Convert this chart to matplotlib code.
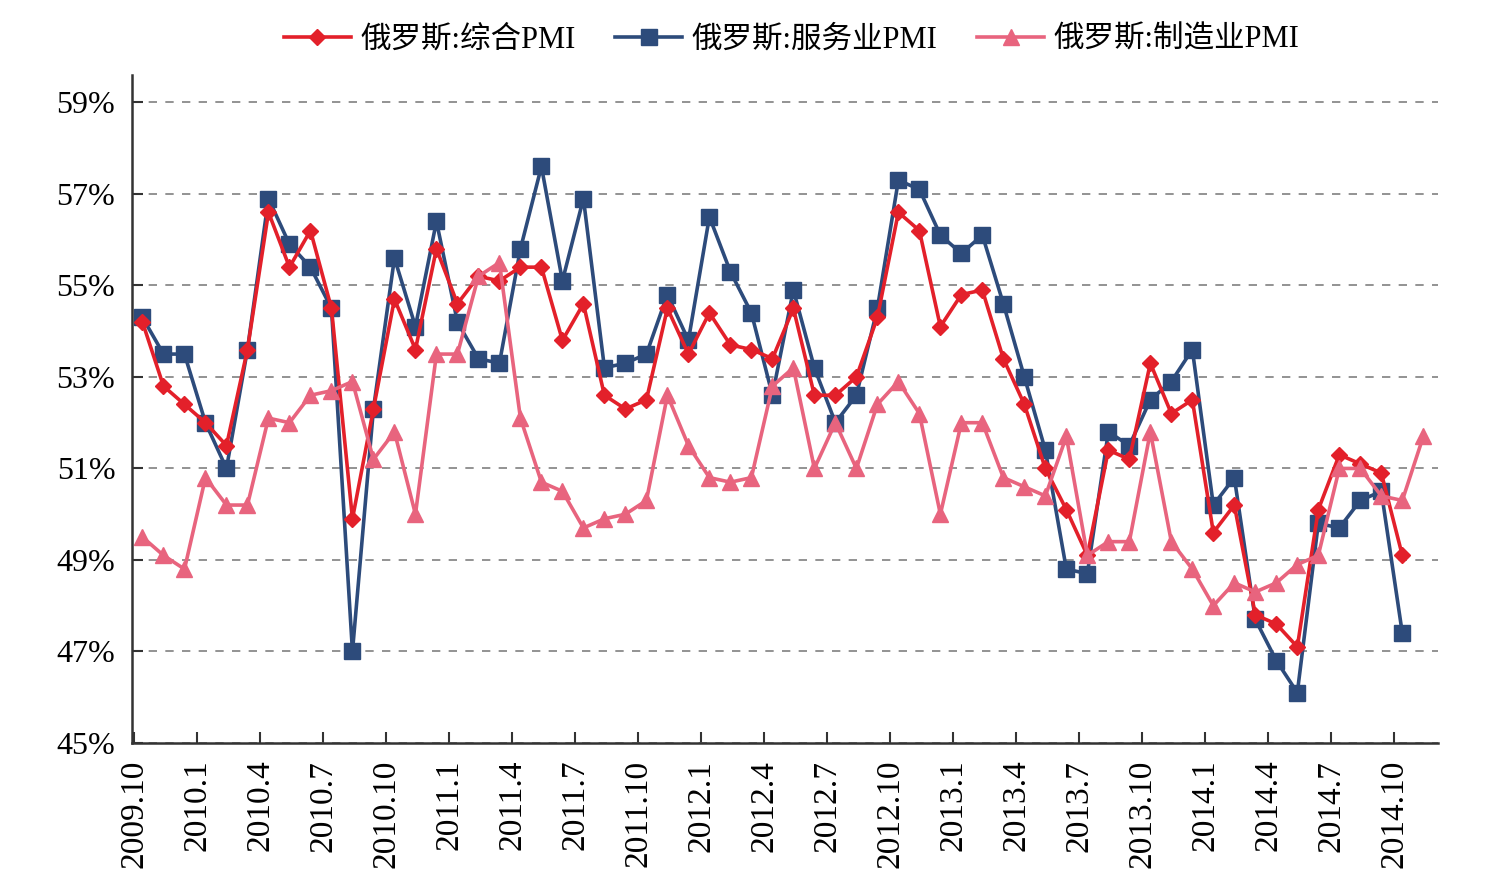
import matplotlib
matplotlib.use('Agg')
import matplotlib.pyplot as plt

plt.rcParams['font.family'] = ['Liberation Serif', 'Noto Sans CJK SC']

# месячные данные 2009.10 - 2014.11
composite = [54.2, 52.8, 52.4, 52.0, 51.5, 53.6, 56.6, 55.4, 56.2, 54.5, 49.9, 52.3,
             54.7, 53.6, 55.8, 54.6, 55.2, 55.1, 55.4, 55.4, 53.8, 54.6, 52.6, 52.3,
             52.5, 54.5, 53.5, 54.4, 53.7, 53.6, 53.4, 54.5, 52.6, 52.6, 53.0, 54.3,
             56.6, 56.2, 54.1, 54.8, 54.9, 53.4, 52.4, 51.0, 50.1, 49.1, 51.4, 51.2,
             53.3, 52.2, 52.5, 49.6, 50.2, 47.8, 47.6, 47.1, 50.1, 51.3, 51.1, 50.9,
             49.1]
services = [54.3, 53.5, 53.5, 52.0, 51.0, 53.6, 56.9, 55.9, 55.4, 54.5, 47.0, 52.3,
            55.6, 54.1, 56.4, 54.2, 53.4, 53.3, 55.8, 57.6, 55.1, 56.9, 53.2, 53.3,
            53.5, 54.8, 53.8, 56.5, 55.3, 54.4, 52.6, 54.9, 53.2, 52.0, 52.6, 54.5,
            57.3, 57.1, 56.1, 55.7, 56.1, 54.6, 53.0, 51.4, 48.8, 48.7, 51.8, 51.5,
            52.5, 52.9, 53.6, 50.2, 50.8, 47.7, 46.8, 46.1, 49.8, 49.7, 50.3, 50.5,
            47.4]
manufacturing = [49.5, 49.1, 48.8, 50.8, 50.2, 50.2, 52.1, 52.0, 52.6, 52.7, 52.9, 51.2,
                 51.8, 50.0, 53.5, 53.5, 55.2, 55.5, 52.1, 50.7, 50.5, 49.7, 49.9, 50.0,
                 50.3, 52.6, 51.5, 50.8, 50.7, 50.8, 52.8, 53.2, 51.0, 52.0, 51.0, 52.4,
                 52.9, 52.2, 50.0, 52.0, 52.0, 50.8, 50.6, 50.4, 51.7, 49.1, 49.4, 49.4,
                 51.8, 49.4, 48.8, 48.0, 48.5, 48.3, 48.5, 48.9, 49.1, 51.0, 51.0, 50.4,
                 50.3, 51.7]

x_labels = ['2009.10', '2010.1', '2010.4', '2010.7', '2010.10', '2011.1', '2011.4',
            '2011.7', '2011.10', '2012.1', '2012.4', '2012.7', '2012.10', '2013.1',
            '2013.4', '2013.7', '2013.10', '2014.1', '2014.4', '2014.7', '2014.10']
y_ticks = [45, 47, 49, 51, 53, 55, 57, 59]
y_labels = ['45%', '47%', '49%', '51%', '53%', '55%', '57%', '59%']

fig = plt.figure(figsize=(14.88, 8.96), dpi=100)
ax = fig.add_axes([0.0887, 0.1708, 0.8777, 0.7455])

ax.plot(range(len(services)), services, color='#2D4B7B', marker='s',
        markersize=12, linewidth=2.6, label='俄罗斯:服务业PMI', zorder=2)
ax.plot(range(len(composite)), composite, color='#E3202A', marker='D',
        markersize=8, linewidth=2.6, label='俄罗斯:综合PMI', zorder=3)
ax.plot(range(len(manufacturing)), manufacturing, color='#E8647E', marker='^',
        markersize=11, linewidth=2.6, label='俄罗斯:制造业PMI', zorder=4)

# оси
ax.set_xlim(-0.5, 61.7)
ax.set_ylim(45, 59.6)
ax.set_xticks([i * 3 - 0.4 for i in range(len(x_labels))])
ax.set_xticklabels(x_labels, rotation=90, fontsize=24)
ax.set_yticks(y_ticks)
ax.set_yticklabels(y_labels, fontsize=23)
ax.tick_params(axis='both', direction='in', length=8, width=1.5,
               color='#333333', pad=12)

for side in ['top', 'right']:
    ax.spines[side].set_visible(False)
for side in ['left', 'bottom']:
    ax.spines[side].set_linewidth(1.8)
    ax.spines[side].set_color('#333333')

ax.grid(axis='y', linestyle=(0, (5, 5)), color='#808080', linewidth=1.2)
ax.set_axisbelow(True)

# легенда
handles, labels = ax.get_legend_handles_labels()
order = [1, 0, 2]
fig.legend([handles[i] for i in order], [labels[i] for i in order],
           loc='center', bbox_to_anchor=(0.532, 0.955), ncol=3, frameon=False,
           fontsize=22, handlelength=2.2, handletextpad=0.3, columnspacing=1.3)

fig.savefig('out.png', dpi=100)
